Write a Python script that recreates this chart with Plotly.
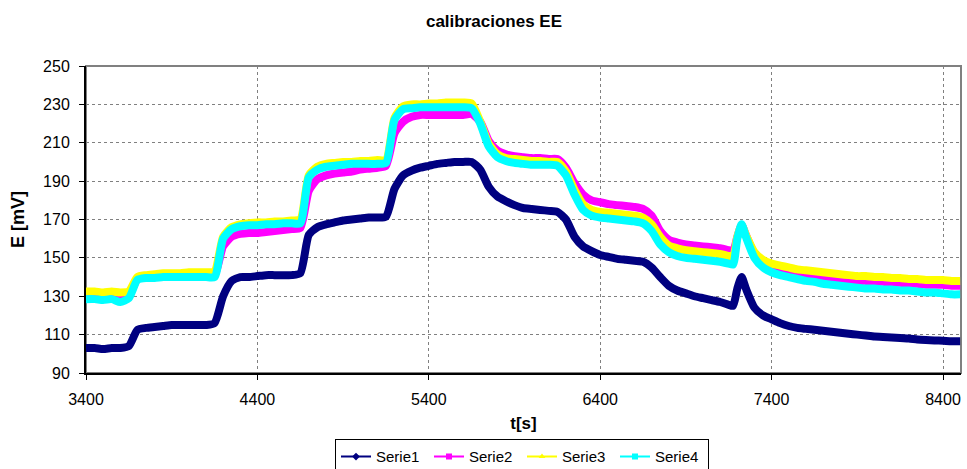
import plotly.graph_objects as go

# Time axis [s]
t = [3400, 3450, 3500, 3550, 3600, 3650, 3700, 3750, 3800, 3850,
     3900, 3950, 4000, 4050, 4100, 4150, 4200, 4250, 4300, 4350,
     4400, 4450, 4500, 4550, 4600, 4650, 4700, 4750, 4800, 4850,
     4900, 4950, 5000, 5050, 5100, 5150, 5200, 5250, 5300, 5350,
     5400, 5450, 5500, 5550, 5600, 5650, 5700, 5750, 5800, 5850,
     5900, 5950, 6000, 6050, 6100, 6150, 6200, 6250, 6300, 6350,
     6400, 6450, 6500, 6550, 6600, 6650, 6700, 6750, 6800, 6850,
     6900, 6950, 7000, 7050, 7100, 7150, 7175, 7200, 7225, 7250,
     7300, 7350, 7400, 7450, 7500, 7550, 7600, 7650, 7700, 7750,
     7800, 7850, 7900, 7950, 8000, 8050, 8100, 8150, 8200, 8250,
     8300, 8350, 8400, 8450, 8500]

# Potential E [mV] for each electrode
serie1 = [103, 103, 102.5, 103, 103, 104, 112.5, 113.5, 114, 114.5,
          115, 115, 115, 115, 115, 116, 130, 138, 140, 140,
          140.5, 141, 141, 141, 141, 142, 162, 166, 167.5, 168.5,
          169.5, 170, 170.5, 171, 171, 171.5, 186, 193, 195.5, 197,
          198, 199, 199.5, 200, 200, 200, 196, 187, 182, 179.5,
          177.5, 176, 175.5, 175, 174.5, 174, 170, 161, 156, 153.5,
          151.5, 150.5, 149.5, 149, 148.5, 148, 145, 140, 135.5, 133,
          131.5, 130, 129, 128, 127, 125.5, 125, 134, 140, 134,
          124, 120, 118, 116, 114.5, 113.5, 113, 112.5, 112, 111.5,
          111, 110.5, 110, 109.5, 109, 108.8, 108.5, 108.2, 108, 107.5,
          107.2, 107, 106.8, 106.5, 106.5]

serie2 = [130.5, 130.5, 130, 130.5, 130, 130.5, 139, 140.5, 140.5, 140.5,
          140.5, 141, 141, 141, 141, 141, 156, 161, 162.5, 163,
          163, 163.5, 164, 164.5, 165, 165.5, 185, 191, 193, 194,
          194.5, 195, 196, 196.5, 197, 198, 215, 221, 223.5, 224.5,
          224.5, 224.5, 224.5, 224.5, 224.5, 225, 221, 211, 206, 204,
          203, 202.5, 202, 202, 201.5, 201.5, 197, 189, 183, 180,
          179, 178, 177.5, 177, 176.5, 175.5, 172, 164, 159.5, 158,
          157, 156.5, 156, 155.5, 155, 154, 153.5, 161, 167, 162,
          152, 147.5, 145, 143.5, 142.5, 141.5, 141, 140.5, 140, 139.5,
          139, 138.5, 138, 138, 137.5, 137.5, 137, 137, 136.5, 136.5,
          136, 136, 136, 135.5, 135.5]

serie3 = [132.5, 132.5, 132, 132.5, 132, 132.5, 140, 141, 141.5, 142,
          142, 142, 142.5, 142.5, 142.5, 143, 161, 166, 167.5, 168,
          168.5, 168.5, 169, 169, 169.5, 170, 193, 197.5, 199, 199.5,
          200, 200, 200.5, 200.5, 201, 201, 223, 229, 230, 230,
          230.5, 230.5, 231, 231, 231, 230.5, 221, 209.5, 204, 202,
          201.5, 201, 200.5, 200.5, 200, 200, 195, 185.5, 178, 175,
          174, 173.5, 173, 172.5, 172, 171, 167.5, 161, 156.5, 155,
          154, 153.5, 153, 152.5, 152, 151, 150.5, 161, 167, 162,
          153, 149, 147, 146, 145, 144, 143.5, 143, 142.5, 142,
          141.5, 141, 140.5, 140.5, 140, 140, 139.5, 139.5, 139, 139,
          138.5, 138.5, 138.5, 138, 138]

serie4 = [128.5, 128.5, 128, 128.5, 127, 129, 138.5, 139.5, 139.5, 140,
          140, 140, 140, 140, 140, 140, 160, 165, 166.5, 167,
          167, 167.5, 167.5, 168, 168, 168, 192, 196, 197.5, 198,
          198.5, 199, 199, 199, 199, 199.5, 222, 227.5, 228, 228.5,
          228.5, 228.5, 228.5, 228.5, 228.5, 228, 220, 208, 202.5, 200.5,
          199.5, 199, 198.5, 198.5, 198.5, 198, 193, 183, 175, 172,
          171, 170.5, 170, 169.5, 169, 168, 164, 157, 153, 151,
          150, 149.5, 149, 148.5, 148, 147, 146.5, 160, 167.5, 161,
          150, 145, 142.5, 141, 140, 139, 138, 137.5, 136.5, 136,
          135.5, 135, 134.5, 134, 134, 133.5, 133.5, 133, 133, 132.5,
          132, 132, 131.5, 131, 131]

names = ["Serie1", "Serie2", "Serie3", "Serie4"]
values = [serie1, serie2, serie3, serie4]
colors = ["#000080", "#FF00FF", "#FFFF00", "#00FFFF"]
symbols = ["diamond", "square", "triangle-up", "square"]

FONT = "Liberation Sans, Arial, sans-serif"

fig = go.Figure()

# Thick bands drawn by the dense measurement markers
for name, y, c in zip(names, values, colors):
    fig.add_trace(go.Scatter(
        x=t, y=y, mode="lines", name=name, showlegend=False,
        line=dict(color=c, width=8, shape="spline", smoothing=0.6),
    ))

# Legend entries with line + marker keys
for name, c, s in zip(names, colors, symbols):
    fig.add_trace(go.Scatter(
        x=[None], y=[None], mode="lines+markers", name=name,
        line=dict(color=c, width=2),
        marker=dict(color=c, symbol=s, size=6),
    ))

# Grey plot-area frame
fig.add_shape(type="rect", xref="paper", yref="paper",
              x0=0, x1=1, y0=0, y1=1,
              line=dict(color="#808080", width=2), layer="below")

fig.update_layout(
    autosize=False,
    width=967, height=469,
    margin=dict(l=86, r=6, t=66, b=96, autoexpand=False),
    paper_bgcolor="white", plot_bgcolor="white",
    font=dict(family=FONT, size=16, color="black"),
    title=dict(text="<b>calibraciones EE</b>", x=494 / 967, xanchor="center",
               y=1 - 21 / 469, yanchor="middle", yref="container",
               font=dict(size=17, family=FONT)),
    showlegend=True,
    legend=dict(orientation="h", x=(522 - 86) / 875, xanchor="center",
                y=-0.216, yanchor="top",
                bordercolor="black", borderwidth=1,
                font=dict(size=15, family=FONT),
                entrywidth=48, entrywidthmode="pixels",
                itemwidth=30, tracegroupgap=0),
)

fig.update_xaxes(
    range=[3400, 8505], tick0=3400, dtick=1000,
    showgrid=True, gridcolor="#808080", griddash="dot", gridwidth=1,
    showline=True, linecolor="black", linewidth=2,
    ticks="outside", ticklen=5, tickcolor="black",
    ticklabelstandoff=6,
    zeroline=False, automargin=False,
    tickfont=dict(size=16, family=FONT),
    title=dict(text="<b>t[s]</b>", font=dict(size=17, family=FONT), standoff=10),
)
fig.update_yaxes(
    range=[90, 250], tick0=90, dtick=20,
    showgrid=True, gridcolor="#808080", griddash="dot", gridwidth=1,
    showline=True, linecolor="black", linewidth=2,
    ticks="outside", ticklen=5, tickcolor="black",
    ticklabelstandoff=6,
    zeroline=False, automargin=False,
    tickfont=dict(size=16, family=FONT),
    title=dict(text="<b>E [mV]</b>", font=dict(size=18, family=FONT), standoff=14),
)

fig.write_html("out.html")
